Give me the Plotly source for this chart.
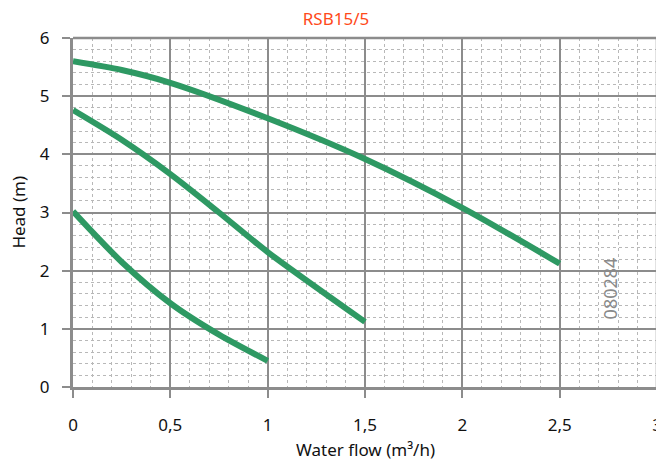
import plotly.graph_objects as go

flow_hi = [0, 0.25, 0.5, 1.0, 1.5, 2.0, 2.5]
head_hi = [5.6, 5.45, 5.23, 4.62, 3.92, 3.08, 2.12]
flow_mid = [0, 0.25, 0.5, 0.75, 1.0, 1.5]
head_mid = [4.76, 4.25, 3.66, 3.0, 2.32, 1.12]
flow_lo = [0, 0.25, 0.5, 0.75, 1.0]
head_lo = [3.02, 2.15, 1.44, 0.9, 0.45]
x_ticks = [0, 0.5, 1, 1.5, 2, 2.5, 3]
x_labels = ["0", "0,5", "1", "1,5", "2", "2,5", "3"]

color = "#2e9963"
fig = go.Figure()
for xs, ys in [(flow_hi, head_hi), (flow_mid, head_mid), (flow_lo, head_lo)]:
    fig.add_trace(go.Scatter(x=xs, y=ys, mode="lines",
                             line=dict(color=color, width=6, shape="spline", smoothing=0.8),
                             showlegend=False, hoverinfo="skip"))

font = "Noto Sans"
fig.update_layout(
    width=656, height=460,
    margin=dict(l=65, r=7, t=30, b=81, autoexpand=False),
    paper_bgcolor="white", plot_bgcolor="white",
    font=dict(family=font, size=16, color="#111"),
    title=dict(text="RSB15/5", x=0.5, xanchor="center", y=0.99, yanchor="top",
               font=dict(size=17, color="#ff4a1a", family=font)),
    xaxis=dict(range=[0, 3], tickvals=x_ticks, ticktext=x_labels, automargin=False,
               showgrid=True, gridcolor="#8c8c8c", gridwidth=1.5,
               showline=True, linecolor="#8c8c8c", linewidth=3, mirror=False,
               ticks="outside", ticklen=8, tickcolor="#8c8c8c", tickwidth=2,
               ticklabelstandoff=13, zeroline=False,
               minor=dict(dtick=0.1, showgrid=True, gridcolor="#b8b8b8", griddash="dot", gridwidth=1),
               tickfont=dict(size=17)),
    yaxis=dict(range=[0, 6], dtick=1, automargin=False,
               showgrid=True, gridcolor="#8c8c8c", gridwidth=1.5,
               showline=True, linecolor="#8c8c8c", linewidth=3,
               ticks="outside", ticklen=8, tickcolor="#8c8c8c", tickwidth=2,
               ticklabelstandoff=9, zeroline=False,
               minor=dict(dtick=0.2, showgrid=True, gridcolor="#b8b8b8", griddash="dot", gridwidth=1),
               tickfont=dict(size=17)),
)
# top and right borders
fig.add_shape(type="line", xref="paper", yref="paper", x0=0, x1=1, y0=1, y1=1,
              line=dict(color="#8c8c8c", width=2.5))
fig.add_shape(type="line", xref="paper", yref="paper", x0=1, x1=1, y0=0, y1=1,
              line=dict(color="#8c8c8c", width=2.5))
fig.add_annotation(text="Water flow (m³/h)", x=0.5, y=-0.18, xref="paper", yref="paper",
                   xanchor="center", yanchor="middle", showarrow=False,
                   font=dict(size=17, color="#111", family=font))
fig.add_annotation(text="Head (m)", x=-0.094, y=0.5, xref="paper", yref="paper",
                   xanchor="center", yanchor="middle", textangle=-90, showarrow=False,
                   font=dict(size=17, color="#111", family=font))
fig.add_annotation(text="080284", x=2.76, y=1.70, xref="x", yref="y", textangle=-90,
                   showarrow=False, font=dict(size=18, color="#8a8a8a", family=font))
fig.write_html("out.html")
